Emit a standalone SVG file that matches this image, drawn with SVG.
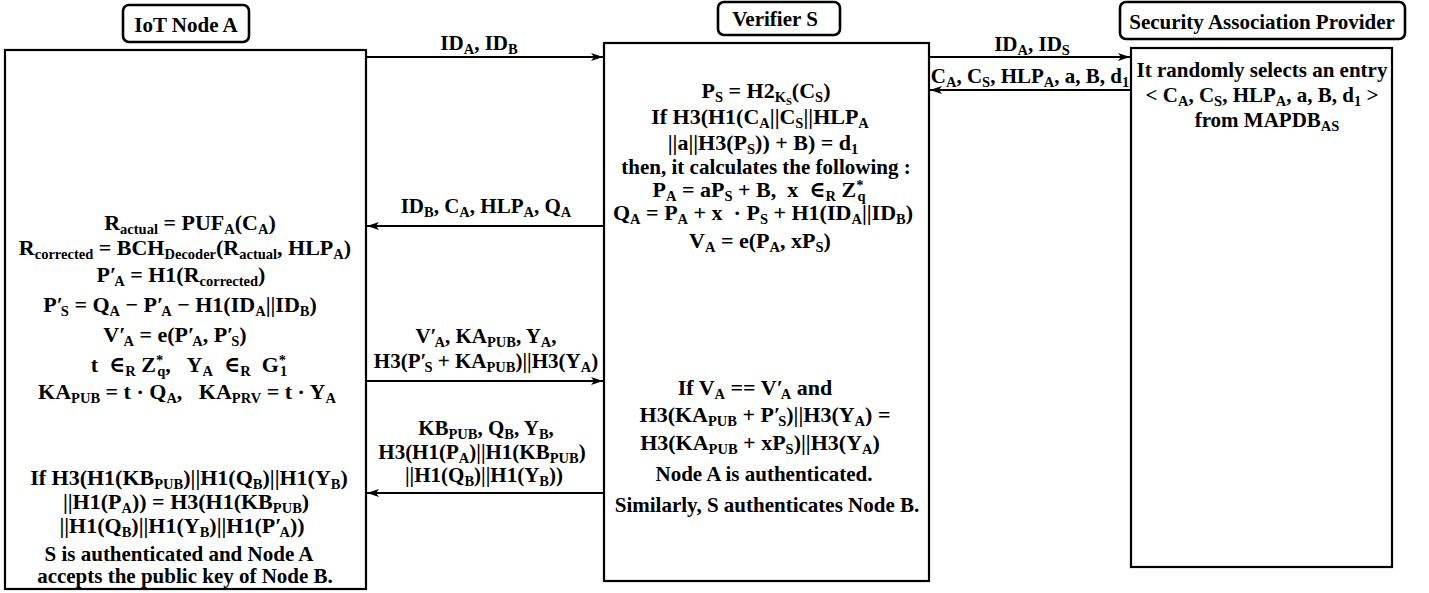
<svg xmlns="http://www.w3.org/2000/svg" width="1429" height="593" viewBox="0 0 1429 593">
<style>
text{font-family:"Liberation Serif","DejaVu Serif",serif;font-weight:bold;font-size:21px;fill:#000;text-anchor:middle}
.m{font-size:22px}
.s{font-size:14.5px;baseline-shift:-4px}
.ss{font-size:10.5px;baseline-shift:-7px}
.p{font-size:14.5px;baseline-shift:7px}
.box{fill:#fff;stroke:#000;stroke-width:2.2}
.lbl{fill:#fff;stroke:#000;stroke-width:2.6}
.arr{stroke:#000;stroke-width:2;fill:none;marker-end:url(#ah)}
</style>
<defs>
<marker id="ah" viewBox="0 0 12 8" refX="12" refY="4" markerWidth="12" markerHeight="8" markerUnits="userSpaceOnUse" orient="auto">
<path d="M0,0 L12,4 L0,8 L3,4 z" fill="#000"/>
</marker>
</defs>
<rect width="1429" height="593" fill="#fff"/>

<g id="node-a">
<rect class="lbl" x="123" y="5" width="126" height="37" rx="6"/>
<text x="186" y="32">IoT Node A</text>
<rect class="box" x="5" y="50" width="361" height="539"/>
<text class="m" x="190" y="230">R<tspan class="s">actual</tspan> = PUF<tspan class="s">A</tspan>(C<tspan class="s">A</tspan>)</text>
<text class="m" x="185" y="255">R<tspan class="s">corrected</tspan> = BCH<tspan class="s">Decoder</tspan>(R<tspan class="s">actual</tspan>, HLP<tspan class="s">A</tspan>)</text>
<text class="m" x="181" y="282">P′<tspan class="s" dx="-2">A</tspan> = H1(R<tspan class="s">corrected</tspan>)</text>
<text class="m" x="180" y="312">P′<tspan class="s" dx="-2">S</tspan> = Q<tspan class="s">A</tspan> − P′<tspan class="s" dx="-2">A</tspan> − H1(ID<tspan class="s">A</tspan>||ID<tspan class="s">B</tspan>)</text>
<text class="m" x="175" y="342">V′<tspan class="s" dx="-2">A</tspan> = e(P′<tspan class="s" dx="-2">A</tspan>, P′<tspan class="s" dx="-2">S</tspan>)</text>
<text class="m" x="189" y="372">t &#160;∈<tspan class="s">R</tspan> Z<tspan class="p">*</tspan><tspan class="s" dx="-6">q</tspan>, &#160; Y<tspan class="s">A</tspan> &#160;∈<tspan class="s">R</tspan> &#160;G<tspan class="p">*</tspan><tspan class="s" dx="-6">1</tspan></text>
<text class="m" x="187" y="399">KA<tspan class="s">PUB</tspan> = t · Q<tspan class="s">A</tspan>, &#160; KA<tspan class="s">PRV</tspan> = t · Y<tspan class="s">A</tspan></text>
<text class="m" x="189" y="485">If H3(H1(KB<tspan class="s">PUB</tspan>)||H1(Q<tspan class="s">B</tspan>)||H1(Y<tspan class="s">B</tspan>)</text>
<text class="m" x="186" y="509">||H1(P<tspan class="s">A</tspan>)) = H3(H1(KB<tspan class="s">PUB</tspan>)</text>
<text class="m" x="182" y="533">||H1(Q<tspan class="s">B</tspan>)||H1(Y<tspan class="s">B</tspan>)||H1(P′<tspan class="s" dx="-2">A</tspan>))</text>
<text x="179" y="561">S is authenticated and Node A</text>
<text x="185" y="583">accepts the public key of Node B.</text>
</g>

<g id="verifier-s">
<rect class="lbl" x="718" y="2" width="122" height="33" rx="6"/>
<text x="775" y="26">Verifier S</text>
<rect class="box" x="604" y="43" width="325" height="538"/>
<text class="m" x="766" y="98">P<tspan class="s">S</tspan> = H2<tspan class="s">K</tspan><tspan class="ss">S</tspan>(C<tspan class="s">S</tspan>)</text>
<text class="m" x="760" y="124">If H3(H1(C<tspan class="s">A</tspan>||C<tspan class="s">S</tspan>||HLP<tspan class="s">A</tspan></text>
<text class="m" x="763" y="150">||a||H3(P<tspan class="s">S</tspan>)) + B) = d<tspan class="s">1</tspan></text>
<text x="766" y="174">then, it calculates the following :</text>
<text class="m" x="759" y="197">P<tspan class="s">A</tspan> = aP<tspan class="s">S</tspan> + B, &#160;x &#160;∈<tspan class="s">R</tspan> Z<tspan class="p">*</tspan><tspan class="s" dx="-6">q</tspan></text>
<text class="m" x="763" y="220">Q<tspan class="s">A</tspan> = P<tspan class="s">A</tspan> + x &#160;· P<tspan class="s">S</tspan> + H1(ID<tspan class="s">A</tspan>||ID<tspan class="s">B</tspan>)</text>
<text class="m" x="760" y="248">V<tspan class="s">A</tspan> = e(P<tspan class="s">A</tspan>, xP<tspan class="s">S</tspan>)</text>
<text class="m" x="755" y="395">If V<tspan class="s">A</tspan> == V′<tspan class="s" dx="-2">A</tspan> and</text>
<text class="m" x="765" y="422">H3(KA<tspan class="s">PUB</tspan> + P′<tspan class="s" dx="-2">S</tspan>)||H3(Y<tspan class="s">A</tspan>) =</text>
<text class="m" x="760" y="450">H3(KA<tspan class="s">PUB</tspan> + xP<tspan class="s">S</tspan>)||H3(Y<tspan class="s">A</tspan>)</text>
<text x="764" y="481">Node A is authenticated.</text>
<text x="767" y="512">Similarly, S authenticates Node B.</text>
</g>

<g id="sap">
<rect class="lbl" x="1120" y="2" width="285" height="37" rx="6"/>
<text x="1262" y="29">Security Association Provider</text>
<rect class="box" x="1131" y="48" width="261" height="519"/>
<text x="1262" y="77">It randomly selects an entry</text>
<text x="1262" y="102">&lt; C<tspan class="s">A</tspan>, C<tspan class="s">S</tspan>, HLP<tspan class="s">A</tspan>, a, B, d<tspan class="s">1</tspan> &gt;</text>
<text x="1267" y="127">from MAPDB<tspan class="s">AS</tspan></text>
</g>

<g id="connectors">
<line class="arr" x1="367" y1="57" x2="603" y2="57"/>
<text x="479" y="50">ID<tspan class="s">A</tspan>, ID<tspan class="s">B</tspan></text>
<line class="arr" x1="604" y1="226" x2="367" y2="226"/>
<text x="486" y="213">ID<tspan class="s">B</tspan>, C<tspan class="s">A</tspan>, HLP<tspan class="s">A</tspan>, Q<tspan class="s">A</tspan></text>
<line class="arr" x1="367" y1="381" x2="603" y2="381"/>
<text x="486" y="343">V′<tspan class="s" dx="-2">A</tspan>, KA<tspan class="s">PUB</tspan>, Y<tspan class="s">A</tspan>,</text>
<text x="486" y="368">H3(P′<tspan class="s" dx="-2">S</tspan> + KA<tspan class="s">PUB</tspan>)||H3(Y<tspan class="s">A</tspan>)</text>
<line class="arr" x1="604" y1="493" x2="367" y2="493"/>
<text x="486" y="435">KB<tspan class="s">PUB</tspan>, Q<tspan class="s">B</tspan>, Y<tspan class="s">B</tspan>,</text>
<text x="482" y="459">H3(H1(P<tspan class="s">A</tspan>)||H1(KB<tspan class="s">PUB</tspan>)</text>
<text x="484" y="482">||H1(Q<tspan class="s">B</tspan>)||H1(Y<tspan class="s">B</tspan>))</text>
<line class="arr" x1="929" y1="57" x2="1130" y2="57"/>
<text x="1032" y="51">ID<tspan class="s">A</tspan>, ID<tspan class="s">S</tspan></text>
<line class="arr" x1="1131" y1="90" x2="930" y2="90"/>
<text x="1030" y="83">C<tspan class="s">A</tspan>, C<tspan class="s">S</tspan>, HLP<tspan class="s">A</tspan>, a, B, d<tspan class="s">1</tspan></text>
</g>
</svg>
